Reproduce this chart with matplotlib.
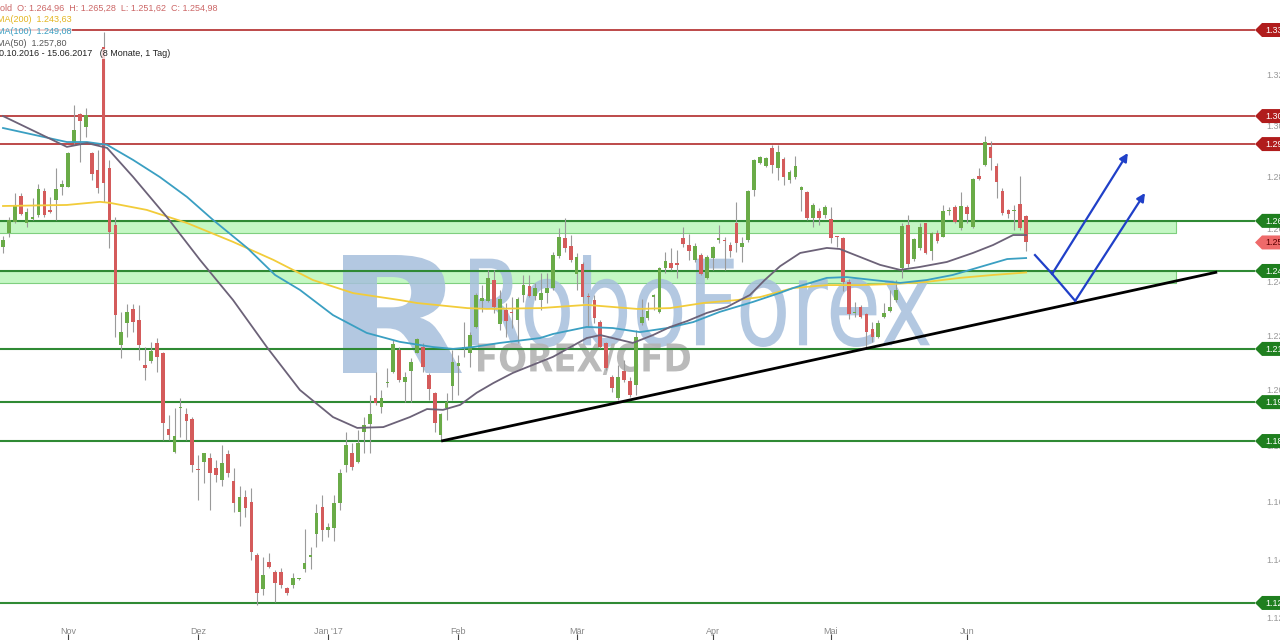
import numpy as np
import pandas as pd
import matplotlib
matplotlib.use("Agg")
import matplotlib.pyplot as plt
from matplotlib.patches import Polygon, PathPatch
from matplotlib.textpath import TextPath
from matplotlib.font_manager import FontProperties
from matplotlib.transforms import Affine2D, IdentityTransform
from matplotlib.ticker import NullLocator

# ---------------- data ----------------
dates = pd.bdate_range("2016-10-17", "2017-06-15")

opens = [1253.4, 1258.7, 1262.9, 1272.8, 1262.3, 1263.9, 1265.5, 1274.8, 1267.4, 1271.2,
         1276.4, 1276.4, 1293.2, 1304.7, 1299.5, 1289.3, 1282.8, 1331.5, 1283.6, 1261.6,
         1216.6, 1224.9, 1229.9, 1225.9, 1209.3, 1210.9, 1217.5, 1213.6, 1186.0, 1178.0,
         1193.5, 1191.5, 1189.6, 1172.0, 1174.4, 1175.8, 1172.3, 1168.0, 1177.2, 1167.6,
         1156.8, 1162.1, 1160.3, 1141.7, 1130.0, 1139.4, 1136.0, 1136.0, 1130.3, 1131.4,
         1133.4, 1136.8, 1141.2, 1149.0, 1158.5, 1150.5, 1151.0, 1160.0, 1173.3, 1177.4,
         1174.4, 1185.1, 1187.9, 1197.4, 1194.1, 1202.7, 1206.9, 1214.8, 1203.0, 1207.2,
         1213.8, 1216.0, 1205.7, 1199.2, 1184.0, 1193.6, 1201.6, 1209.0, 1215.4, 1213.6,
         1223.4, 1233.0, 1233.1, 1240.8, 1224.4, 1229.6, 1228.9, 1225.9, 1235.2, 1238.6,
         1234.7, 1233.3, 1235.8, 1237.7, 1249.9, 1256.6, 1253.6, 1243.1, 1246.8, 1234.7,
         1233.3, 1225.3, 1217.2, 1205.0, 1197.2, 1207.2, 1203.6, 1202.0, 1224.7, 1226.5,
         1234.6, 1229.0, 1245.2, 1247.1, 1247.1, 1256.6, 1254.0, 1248.4, 1250.2, 1241.5,
         1249.0, 1255.8, 1256.1, 1254.0, 1262.5, 1253.4, 1255.9, 1275.1, 1285.6, 1284.4,
         1291.3, 1283.5, 1287.0, 1278.9, 1280.0, 1275.1, 1274.4, 1264.2, 1267.1, 1265.5,
         1263.8, 1257.3, 1256.6, 1240.2, 1228.5, 1230.6, 1228.1, 1222.4, 1219.7, 1227.1,
         1229.3, 1233.3, 1245.2, 1261.6, 1248.6, 1252.8, 1262.3, 1251.9, 1258.5, 1257.2,
         1266.8, 1268.4, 1260.4, 1268.6, 1261.0, 1280.5, 1284.8, 1291.7, 1284.4, 1274.8,
         1267.4, 1266.8, 1269.6, 1264.96]
highs = [1257.4, 1264.8, 1273.8, 1274.0, 1268.1, 1272.0, 1277.4, 1275.8, 1272.5, 1283.6,
         1278.9, 1289.9, 1308.3, 1305.0, 1307.0, 1289.9, 1290.6, 1337.6, 1286.7, 1264.8,
         1229.0, 1231.8, 1231.8, 1231.5, 1216.0, 1217.9, 1219.1, 1214.2, 1191.2, 1193.6,
         1197.2, 1193.6, 1190.5, 1176.8, 1177.6, 1177.4, 1175.0, 1180.4, 1178.6, 1172.1,
         1165.8, 1164.4, 1165.0, 1142.3, 1141.2, 1142.3, 1136.6, 1137.2, 1130.8, 1135.6,
         1134.0, 1150.7, 1144.6, 1159.5, 1162.5, 1153.0, 1162.5, 1172.0, 1185.1, 1181.0,
         1185.8, 1190.5, 1198.4, 1206.9, 1200.2, 1208.1, 1218.5, 1216.0, 1206.9, 1211.8,
         1219.1, 1217.5, 1206.3, 1199.6, 1191.8, 1199.2, 1214.8, 1213.0, 1225.3, 1221.6,
         1235.8, 1238.9, 1244.6, 1244.6, 1237.1, 1232.1, 1234.6, 1234.6, 1242.7, 1242.7,
         1239.6, 1243.3, 1243.3, 1251.5, 1260.4, 1264.2, 1257.8, 1250.9, 1247.7, 1235.8,
         1235.2, 1225.9, 1217.9, 1205.7, 1209.3, 1211.1, 1205.0, 1222.2, 1233.6, 1232.7,
         1235.6, 1245.8, 1251.5, 1252.8, 1252.1, 1261.0, 1258.2, 1254.9, 1251.1, 1250.2,
         1253.6, 1261.6, 1257.2, 1255.3, 1270.6, 1256.9, 1275.1, 1287.0, 1288.3, 1288.0,
         1292.6, 1292.6, 1288.0, 1282.8, 1288.3, 1276.7, 1274.7, 1269.9, 1268.0, 1269.3,
         1268.6, 1257.4, 1257.2, 1241.1, 1232.7, 1231.5, 1228.6, 1225.3, 1225.9, 1232.3,
         1237.1, 1240.8, 1262.3, 1265.5, 1256.6, 1262.5, 1262.5, 1259.1, 1259.6, 1269.3,
         1268.6, 1269.3, 1274.4, 1269.3, 1279.6, 1283.5, 1296.1, 1294.2, 1285.4, 1275.7,
         1267.7, 1269.3, 1280.5, 1265.28]
lows = [1251.0, 1256.9, 1262.3, 1265.5, 1261.0, 1263.6, 1264.8, 1264.8, 1266.1, 1263.6,
        1273.1, 1276.3, 1292.6, 1286.0, 1295.6, 1278.9, 1273.8, 1270.6, 1252.9, 1219.7,
        1211.8, 1219.7, 1221.6, 1211.1, 1203.8, 1209.9, 1206.9, 1182.2, 1182.2, 1177.4,
        1183.4, 1182.2, 1170.9, 1160.9, 1166.8, 1157.4, 1167.4, 1165.8, 1169.1, 1156.8,
        1151.8, 1155.0, 1140.0, 1124.6, 1128.0, 1137.2, 1125.7, 1130.3, 1128.0, 1130.3,
        1133.0, 1136.0, 1136.8, 1144.6, 1146.5, 1148.0, 1146.5, 1157.5, 1170.9, 1171.5,
        1173.9, 1177.4, 1177.4, 1194.8, 1191.8, 1201.4, 1206.3, 1203.2, 1196.0, 1196.0,
        1213.6, 1206.9, 1196.6, 1185.1, 1182.2, 1189.4, 1196.6, 1198.4, 1212.4, 1208.7,
        1222.8, 1229.0, 1232.7, 1228.4, 1222.2, 1219.7, 1222.8, 1217.2, 1232.7, 1234.6,
        1233.3, 1229.6, 1232.1, 1237.1, 1249.0, 1251.5, 1247.7, 1237.1, 1232.1, 1223.4,
        1224.7, 1215.4, 1207.5, 1199.6, 1196.6, 1203.2, 1197.8, 1198.4, 1224.0, 1225.9,
        1229.6, 1228.4, 1243.3, 1244.6, 1241.5, 1253.4, 1248.4, 1247.7, 1242.7, 1241.1,
        1244.6, 1254.6, 1244.6, 1249.6, 1251.5, 1247.7, 1255.3, 1272.8, 1285.1, 1284.1,
        1281.5, 1278.9, 1277.0, 1277.6, 1279.2, 1267.1, 1263.5, 1260.8, 1261.6, 1264.2,
        1254.6, 1253.2, 1236.8, 1226.1, 1226.9, 1226.5, 1215.4, 1217.9, 1219.1, 1226.5,
        1229.0, 1232.7, 1241.5, 1245.8, 1248.1, 1252.1, 1250.6, 1248.4, 1254.6, 1256.9,
        1265.5, 1262.3, 1259.7, 1262.3, 1260.5, 1278.9, 1284.4, 1282.8, 1271.9, 1265.5,
        1264.2, 1259.7, 1259.7, 1251.62]
closes = [1255.9, 1263.6, 1269.3, 1265.7, 1266.7, 1264.5, 1275.5, 1265.5, 1266.6, 1275.3,
          1277.4, 1289.3, 1298.4, 1302.1, 1304.3, 1281.3, 1275.7, 1277.9, 1259.1, 1227.7,
          1221.6, 1229.0, 1225.3, 1216.6, 1208.1, 1214.6, 1212.4, 1188.2, 1184.0, 1183.6,
          1194.2, 1189.1, 1173.3, 1171.5, 1177.4, 1170.3, 1169.7, 1173.9, 1170.3, 1159.7,
          1162.1, 1158.0, 1142.9, 1128.6, 1134.8, 1137.5, 1132.2, 1131.4, 1128.8, 1133.9,
          1133.6, 1138.9, 1141.7, 1156.5, 1150.5, 1151.5, 1160.0, 1170.5, 1180.4, 1172.6,
          1181.2, 1187.6, 1191.5, 1195.4, 1197.2, 1203.2, 1217.0, 1203.8, 1204.8, 1210.3,
          1218.8, 1208.7, 1200.4, 1188.4, 1191.4, 1196.0, 1210.5, 1209.9, 1215.9, 1220.3,
          1235.2, 1234.0, 1241.5, 1230.8, 1233.6, 1225.6, 1228.3, 1233.6, 1239.1, 1234.8,
          1237.7, 1236.1, 1237.7, 1250.2, 1256.9, 1252.8, 1248.4, 1249.6, 1234.6, 1234.3,
          1226.5, 1216.0, 1208.1, 1200.8, 1205.0, 1203.8, 1198.4, 1219.5, 1227.1, 1229.3,
          1235.2, 1245.2, 1248.0, 1245.2, 1246.4, 1254.4, 1251.9, 1253.6, 1243.1, 1249.4,
          1253.2, 1256.5, 1255.6, 1251.9, 1254.6, 1254.6, 1274.8, 1286.7, 1287.7, 1287.4,
          1284.8, 1289.9, 1280.2, 1282.1, 1284.4, 1276.4, 1264.2, 1269.3, 1264.2, 1268.4,
          1256.6, 1257.1, 1240.2, 1228.1, 1228.7, 1226.9, 1221.6, 1219.5, 1224.9, 1228.6,
          1230.8, 1237.1, 1261.2, 1246.8, 1256.2, 1260.8, 1250.9, 1258.5, 1255.7, 1267.1,
          1267.4, 1262.9, 1268.9, 1265.8, 1279.2, 1279.2, 1293.8, 1287.4, 1278.3, 1266.3,
          1265.8, 1267.2, 1260.4, 1254.98]

# moving averages (bar index, value)
ma50_idx = [0, 10.8, 14.2, 17.6, 22, 27.7, 33.3, 38.9, 44.6, 50.2, 55.8, 59.9, 64.3, 68.8,
            71.7, 74.4, 77.3, 80.1, 82.9, 86.2, 90.8, 93, 98.7, 101, 103.1, 106.5, 109.9,
            112.8, 115.7, 119, 122.4, 126.3, 128.8, 131.4, 134.8, 139.3, 141.5, 144.9,
            148.3, 151.7, 155, 159.6, 164, 167.4, 170.8, 173]
ma50_val = [1303.9, 1291.8, 1293.3, 1291.4, 1280.1, 1264.7, 1248.4, 1233.3, 1215.9, 1200.2,
            1190.4, 1186.5, 1186.8, 1190.4, 1193.3, 1193.0, 1194.8, 1199.2, 1202.7, 1206.4,
            1210.4, 1212.3, 1219.2, 1220.3, 1219.2, 1217.4, 1220.3, 1223.3, 1225.5, 1228.5,
            1230.7, 1235.2, 1240.8, 1246.0, 1251.0, 1252.9, 1252.5, 1249.5, 1246.5, 1244.6,
            1245.7, 1247.6, 1251.0, 1254.0, 1257.8, 1257.8]
ma100_idx = [0, 10.8, 14.2, 17.6, 22, 26.5, 31.1, 35.5, 41.3, 46, 50.2, 55.8, 61.5, 67.1,
             72.7, 76.1, 79.5, 84, 90.8, 93, 98.7, 103.1, 107.7, 112.3, 116.7, 121.2, 126.8,
             131.4, 133.6, 139.3, 142.7, 147.1, 151.7, 156.2, 160.6, 165.2, 169.8, 173]
ma100_val = [1299.2, 1293.7, 1293.7, 1292.6, 1286.7, 1280.1, 1272.4, 1263.6, 1252.9, 1242.7,
             1237.1, 1227.7, 1221.1, 1217.8, 1215.9, 1215.2, 1215.9, 1217.4, 1219.2, 1220.7,
             1223.3, 1222.9, 1221.4, 1222.9, 1225.1, 1228.9, 1232.6, 1236.0, 1237.8, 1241.6,
             1241.9, 1240.8, 1239.7, 1240.8, 1242.7, 1245.7, 1248.7, 1249.08]
ma200_idx = [0, 10.8, 16.4, 18.1, 24.3, 31.1, 38.9, 45.7, 52.4, 59.2, 67.1, 70, 78.5, 81.8,
             90.8, 98.7, 107.2, 112.8, 118.4, 124.1, 128, 133.6, 139.3, 144.9, 150.5, 156.2,
             161.8, 167.4, 173]
ma200_val = [1268.9, 1269.3, 1270.5, 1270.1, 1267.4, 1262.4, 1255.2, 1248.4, 1240.8, 1235.9,
             1233.3, 1232.2, 1230.3, 1230.0, 1230.3, 1231.5, 1230.0, 1230.3, 1232.2, 1233.3,
             1234.4, 1237.8, 1238.9, 1238.9, 1239.3, 1240.1, 1241.6, 1242.7, 1243.63]

# horizontal levels
red_levels = [1338.3, 1303.9, 1292.9]
green_levels = [1263.2, 1244.2, 1215.2, 1195.8, 1181.8, 1125.3]
bands = [(1258.6, 1263.2), (1239.7, 1244.2)]
band_end = 198.3
current_price = 1254.98

# trend line and projection arrows (bar index, price)
trend_x = [74.1, 205.3]
trend_y = [1181.8, 1243.8]
proj1_x = [174.5, 177.4, 190.2]
proj1_y = [1250.2, 1243.1, 1289.4]
proj2_x = [177.4, 181.3, 193.1]
proj2_y = [1243.1, 1233.0, 1273.9]

price_ticks = [1120, 1140, 1160, 1180, 1200, 1220, 1240, 1260, 1280, 1300, 1320]
month_names = {11: "Nov", 12: "Dez", 1: "Jan '17", 2: "Feb", 3: "Mär", 4: "Apr", 5: "Mai", 6: "Jun"}


def de(v):
    s = f"{v:,.2f}"
    return s.replace(",", "X").replace(".", ",").replace("X", ".")


# ---------------- figure ----------------
W, H = 1280, 640
fig = plt.figure(figsize=(W / 100, H / 100), dpi=100)
fig.patch.set_facecolor("white")
AX_R = 1255
ax = fig.add_axes([0, 0, AX_R / W, 1])
ax.set_yscale("log")
ax.set_xlim(-0.507, 211.70)
ax.set_ylim(1112.76, 1350.5)
for s in ax.spines.values():
    s.set_visible(False)
ax.yaxis.set_major_locator(NullLocator())
ax.yaxis.set_minor_locator(NullLocator())

# month ticks
idx = np.arange(len(dates))
month_idx = []
month_lbl = []
prev = dates[0].month
for i, d in enumerate(dates):
    if d.month != prev:
        month_idx.append(i)
        month_lbl.append(month_names[d.month])
    prev = d.month
ax.set_xticks(month_idx)
ax.set_xticklabels([])
ax.tick_params(axis="x", direction="in", length=4, width=0.8, color="#444")
for mi, ml in zip(month_idx, month_lbl):
    ax.text(mi, 8 / H, ml, transform=ax.get_xaxis_transform(), ha="center", va="center",
            fontsize=6.5, color="#888888", family="Liberation Sans")

# bands and levels
for lo, hi in bands:
    ax.fill_between([-2, band_end], lo, hi, facecolor="#c4f7c4", edgecolor="#7fcf7f",
                    linewidth=0.8, zorder=1)
for lv in green_levels:
    ax.axhline(lv, color="#2f8a34", lw=1.5, zorder=2)
for lv in red_levels:
    ax.axhline(lv, color="#b83a3a", lw=1.3, zorder=2)

# watermark
fig.canvas.draw()


def stamp(text, x0, x1, ytop, ybot, color, weight="normal", alpha=1.0, z=1.5):
    tp = TextPath((0, 0), text, size=100, prop=FontProperties(family="DejaVu Sans", weight=weight))
    ext = tp.get_extents()
    sx = (x1 - x0) / ext.width
    sy = (ybot - ytop) / ext.height
    tr = Affine2D().translate(-ext.x0, -ext.y0).scale(sx, sy).translate(x0, H - ybot)
    p = PathPatch(tr.transform_path(tp), transform=IdentityTransform(), facecolor=color,
                  edgecolor="none", alpha=alpha, zorder=z, clip_on=False)
    ax.add_patch(p)


stamp("R", 343, 462, 255, 373, "#a6bfdc", weight="bold", alpha=0.85)
stamp("RoboForex", 470, 930, 255, 347, "#a6bfdc", alpha=0.85)
stamp("FOREX/CFD", 478, 690, 343, 375, "#b3b3b3", weight="bold", alpha=0.9)

# moving averages
ax.plot(ma200_idx, ma200_val, color="#f2cc3a", lw=1.3, zorder=5)
ax.plot(ma100_idx, ma100_val, color="#3a9fc2", lw=1.3, zorder=5)
ax.plot(ma50_idx, ma50_val, color="#6c6278", lw=1.3, zorder=5)

# candles
o = np.array(opens); c = np.array(closes); h = np.array(highs); l = np.array(lows)
up = c >= o
cols = np.where(up, "#6aab48", "#d45b5b")
ax.vlines(idx, l, h, color="#9a9a9a", lw=0.8, zorder=3)
body_lo = np.minimum(o, c)
body_h = np.maximum(np.abs(c - o), 0.3)
ax.bar(idx, body_h, bottom=body_lo, width=0.62, color=cols, zorder=4, linewidth=0)

# trend line and projections
ax.plot(trend_x, trend_y, color="black", lw=2.0, zorder=6, solid_capstyle="butt")
blue = "#2040c8"
for px, py in ((proj1_x, proj1_y), (proj2_x, proj2_y)):
    ax.plot(px[:2], py[:2], color=blue, lw=1.6, zorder=6)
    ax.annotate("", xy=(px[2], py[2]), xytext=(px[1], py[1]),
                arrowprops=dict(arrowstyle="-|>", color=blue, lw=1.6, mutation_scale=12,
                                shrinkA=0, shrinkB=0), zorder=6)

# right side labels
fig.canvas.draw()
for t in price_ticks:
    yd = ax.transData.transform((0, t))[1]
    fig.text(1266, yd, de(t), transform=IdentityTransform(), ha="left", va="center",
             fontsize=6.5, color="#999999", family="Liberation Sans")


def tag(price, color, tcolor):
    yd = ax.transData.transform((0, price))[1]
    verts = [(AX_R, yd), (AX_R + 7, yd + 7), (W + 5, yd + 7), (W + 5, yd - 7), (AX_R + 7, yd - 7)]
    fig.add_artist(Polygon(verts, closed=True, transform=IdentityTransform(), facecolor=color,
                           edgecolor="none", zorder=5))
    fig.text(AX_R + 10, yd, de(price), transform=IdentityTransform(), ha="left", va="center",
             fontsize=6.5, color=tcolor, family="Liberation Sans", zorder=6)


for lv in red_levels:
    tag(lv, "#b01c1c", "white")
for lv in green_levels:
    tag(lv, "#1f7f1f", "white")
tag(current_price, "#ee6a6a", "#5a0000")

# legend header
hdr = [
    ("Gold  O: 1.264,96  H: 1.265,28  L: 1.251,62  C: 1.254,98", "#cc6666", -7, 8),
    ("SMA(200)  " + de(ma200_val[-1]), "#e3b520", -9, 20),
    ("SMA(100)  " + de(ma100_val[-1]), "#3a9fc2", -9, 31),
    ("SMA(50)  " + de(ma50_val[-1]), "#555555", -9, 43),
    ("20.10.2016 - 15.06.2017   (8 Monate, 1 Tag)", "#222222", -6, 54),
]
for txt, col, x, y in hdr:
    fig.text(x, H - y, txt, transform=IdentityTransform(), ha="left", va="center",
             fontsize=6.5, color=col, family="Liberation Sans", zorder=7,
             bbox=dict(facecolor="white", edgecolor="none", alpha=0.75, pad=0.6))

fig.savefig("out.png", dpi=100, facecolor="white")
